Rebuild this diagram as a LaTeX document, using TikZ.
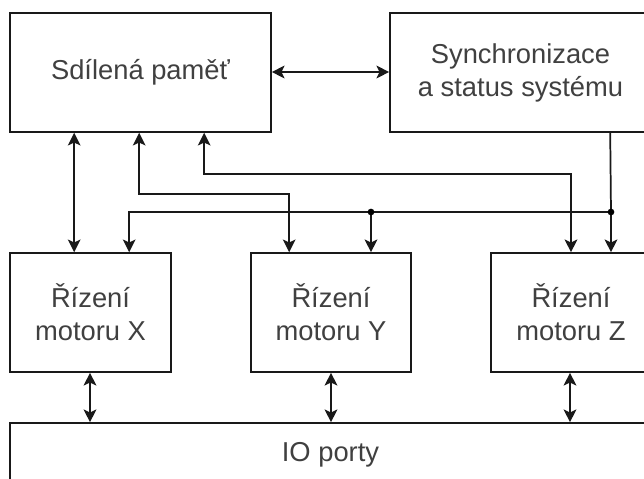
\documentclass[tikz,border=0pt]{standalone}
\usepackage{fontspec}
\setmainfont{Liberation Sans}
\usetikzlibrary{arrows.meta,calc}
\tikzset{
  box/.style={draw=black!90, line width=1.2pt, fill=white, inner sep=0pt, align=center,
    text=black!75, font=\fontsize{20.5pt}{24.75pt}\selectfont},
  conn/.style={line width=1.3pt, draw=black!90},
  onehead/.style={-{Stealth[length=9.5pt,width=9.5pt,inset=2.2pt]}},
  twoheads/.style={{Stealth[length=9.5pt,width=9.5pt,inset=2.2pt]}-{Stealth[length=9.5pt,width=9.5pt,inset=2.2pt]}},
  jdot/.style={circle, fill=black, inner sep=0pt, minimum size=5pt}
}
\begin{document}
\begin{tikzpicture}[x=0.75pt,y=-0.75pt]
\useasboundingbox (0,0) rectangle (644,479);
\clip (0,0) rectangle (644,479);
\node[box, minimum width=195.75pt, minimum height=89.25pt] (mem) at (140.5,72.5) {Sdílená paměť};
\node[box, minimum width=195.75pt, minimum height=89.25pt] (sync) at (520.5,72.5) {Synchronizace\\a status systému};
\node[box, minimum width=120.75pt, minimum height=89.25pt] (mx) at (90.5,312.5) {Řízení\\motoru X};
\node[box, minimum width=120pt, minimum height=89.25pt] (my) at (331,312.5) {Řízení\\motoru Y};
\node[box, minimum width=120pt, minimum height=89.25pt] (mz) at (571,312.5) {Řízení\\motoru Z};
\node[box, minimum width=480.75pt, minimum height=47.25pt] (io) at (330.5,454.5) {IO porty};
\coordinate (j1) at (611,212);
\coordinate (j2) at (371,212);
% memory <-> sync
\draw[conn,twoheads] ($(mem.east)+(0,-0.5)$) -- ($(sync.west)+(0,-0.5)$);
% memory <-> motor X
\draw[conn,twoheads] ($(mem.south west)+(65,0)$) -- ($(mx.north west)+(65,0)$);
% memory <-> motor Y
\draw[conn,twoheads] ($(mem.south west)+(130,0)$) -- ++(0,61) -| ($(my.north west)+(39,0)$);
% memory <-> motor Z
\draw[conn,twoheads] ($(mem.south west)+(195,0)$) -- ++(0,41) -| (mz.north);
% sync -> motors
\draw[conn] ($(sync.south west)+(221,0)$) -- (j1);
\draw[conn,onehead] (j1) -- (j1 |- mz.north);
\draw[conn,onehead] (j1) -| ($(mx.north west)+(120,0)$);
\draw[conn,onehead] (j2) -- (j2 |- my.north);
\node[jdot] (d1) at (j1) {};
\node[jdot] (d2) at (j2) {};
% motors <-> IO
\draw[conn,twoheads] ($(mx.south)+(-0.5,0)$) -- ($(mx.south |- io.north)+(-0.5,0)$);
\draw[conn,twoheads] (my.south) -- (my.south |- io.north);
\draw[conn,twoheads] ($(mz.south)+(-1,0)$) -- ($(mz.south |- io.north)+(-1,0)$);
\end{tikzpicture}
\end{document}
